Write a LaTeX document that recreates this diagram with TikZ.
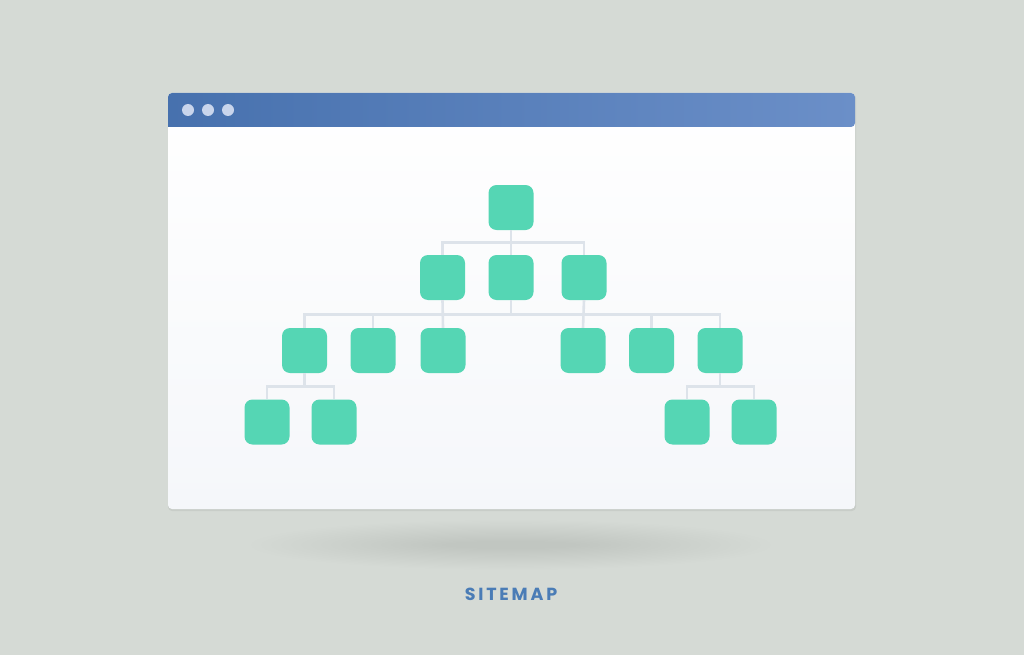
\documentclass[tikz,border=0pt]{standalone}
\usepackage{fontspec}
\usepackage{tikz}
\usetikzlibrary{positioning}
\newfontfamily\labelfont{Poppins}[LetterSpace=16]

\definecolor{bgcol}{HTML}{D5DAD5}
\definecolor{barleft}{HTML}{4771AE}
\definecolor{barright}{HTML}{6B8FC8}
\definecolor{dotcol}{HTML}{C9D5EC}
\definecolor{boxcol}{HTML}{55D6B4}
\definecolor{linkcol}{HTML}{DDE3EA}
\definecolor{textcol}{HTML}{4A7CB6}
\definecolor{pagebot}{HTML}{F5F7FA}

\tikzset{
  box/.style={fill=boxcol, rounded corners=8pt, minimum size=45pt, inner sep=0pt},
  link/.style={draw=linkcol, line width=2.6pt},
  winbtn/.style={circle, fill=dotcol, minimum size=12pt, inner sep=0pt}
}

\begin{document}
\begin{tikzpicture}[x=1pt, y=-1pt]
  \fill[bgcol] (0,0) rectangle (1024,655);
  \useasboundingbox (0,0) rectangle (1024,655);

  % shadow under the window
  \foreach \i in {1,...,20}
    \fill[black, opacity=0.004] (511,545) ellipse ({270-10*\i pt} and {26-1.1*\i pt});

  % browser window
  \fill[black, opacity=0.06, rounded corners=4pt] (168,94) rectangle (856,511);
  \shade[top color=white, bottom color=pagebot, rounded corners=4pt] (168,93) rectangle (855,509);
  \shade[left color=barleft, right color=barright]
    [rounded corners=4pt] (168,127) -- (168,93) -- (855,93) -- (855,127) [sharp corners] -- cycle;
  \node[winbtn] (btn1) at (188,110) {};
  \node[winbtn] (btn2) at (208,110) {};
  \node[winbtn] (btn3) at (228,110) {};

  % sitemap tree
  \node[box] (root) at (511,207.5) {};

  \node[box] (pa) at (442.5,277.5) {};
  \node[box] (pb) at (511,277.5) {};
  \node[box] (pc) at (584,277.5) {};

  \node[box] (ca) at (304.5,350.5) {};
  \node[box] (cb) at (373,350.5) {};
  \node[box] (cc) at (443,350.5) {};
  \node[box] (cd) at (583,350.5) {};
  \node[box] (ce) at (651.5,350.5) {};
  \node[box] (cf) at (720,350.5) {};

  \node[box] (ga) at (267,422) {};
  \node[box] (gb) at (334,422) {};
  \node[box] (gc) at (687,422) {};
  \node[box] (gd) at (754,422) {};

  \foreach \child in {pa,pb,pc}
    \draw[link] (root.south) -- ++(0,12) -| (\child.north);
  \foreach \child in {ca,cb,cc,cd,ce,cf}
    \draw[link] (pb.south) -- ++(0,14) -| (\child.north);
  \draw[link] (pa.south) -- (cc.north);
  \draw[link] (pc.south) -- (cd.north);
  \foreach \child in {ga,gb}
    \draw[link] (ca.south) -- ++(0,13) -| (\child.north);
  \foreach \child in {gc,gd}
    \draw[link] (cf.south) -- ++(0,13) -| (\child.north);

  \node[text=textcol, font=\labelfont\bfseries\fontsize{17.5}{20}\selectfont] (title) at (511,594) {SITEMAP};
\end{tikzpicture}
\end{document}
